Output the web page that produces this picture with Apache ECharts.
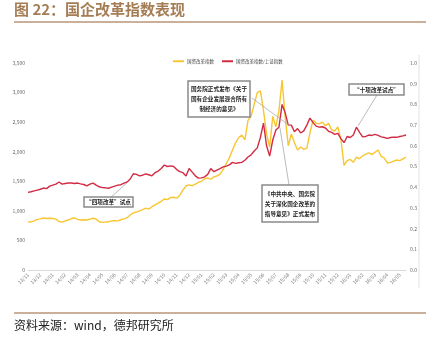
<!DOCTYPE html>
<html><head><meta charset="utf-8">
<script src="https://cdn.jsdelivr.net/npm/echarts@6/dist/echarts.min.js"></script>
<style>html,body{margin:0;padding:0;background:#fff}#c{width:434px;height:341px}</style>
</head><body><div id="c"></div>
<script>
// month tick labels (one category group of 4 points per month)
const months = ['13/11','13/12','14/01','14/02','14/03','14/04','14/05','14/06','14/07','14/08','14/09','14/10','14/11','14/12','15/01','15/02','15/03','15/04','15/05','15/06','15/07','15/08','15/09','15/10','15/11','15/12','16/01','16/02','16/03','16/04','16/05'];
// 国资改革指数 (left axis)
const soeIndex = [810,815,830,855,865,880,870,875,870,860,820,810,830,845,870,880,855,845,850,845,
860,875,860,815,805,810,815,830,835,830,850,865,885,930,965,980,1000,1020,1045,1030,
1070,1100,1130,1160,1200,1190,1225,1230,1215,1265,1350,1420,1440,1425,1450,1480,1500,1540,1555,1535,
1575,1590,1620,1700,1800,1900,2030,2150,2240,2280,2200,2530,2600,2800,3000,3030,2700,2300,2080,2600,
2420,2700,3210,2590,2100,2300,2150,2030,2080,2040,2060,2320,2535,2480,2470,2500,2440,2480,2370,2350,
2420,2200,1770,1850,1870,1820,1910,1880,1930,1960,1980,1950,1990,2030,1920,1890,1810,1820,1840,1860,
1850,1880,1910];
// 国资改革指数/上证指数 (right axis)
const ratio = [0.375,0.378,0.382,0.386,0.39,0.396,0.393,0.405,0.41,0.415,0.425,0.415,0.418,0.42,0.42,0.418,0.42,0.416,0.413,0.406,
0.415,0.42,0.41,0.402,0.398,0.397,0.395,0.4,0.405,0.41,0.412,0.42,0.425,0.44,0.465,0.462,0.455,0.458,0.464,0.46,
0.455,0.47,0.478,0.49,0.507,0.5,0.503,0.5,0.485,0.475,0.47,0.454,0.49,0.473,0.455,0.444,0.445,0.45,0.462,0.49,
0.475,0.483,0.49,0.498,0.502,0.508,0.52,0.515,0.518,0.52,0.53,0.546,0.556,0.575,0.59,0.64,0.71,0.6,0.55,0.628,
0.676,0.69,0.8,0.76,0.7,0.7,0.668,0.683,0.662,0.672,0.7,0.734,0.712,0.695,0.69,0.692,0.686,0.67,0.665,0.655,
0.66,0.635,0.615,0.645,0.64,0.652,0.69,0.665,0.643,0.645,0.652,0.65,0.655,0.65,0.643,0.64,0.636,0.64,0.642,0.641,
0.645,0.648,0.652];
const leftTicks = {min:0, max:3500, interval:500};
const rightTicks = {min:0, max:1, interval:0.1};

const categories = [];
months.forEach(m => { for (let w = 0; w < 4; w++) categories.push(w === 0 ? m : m + '#' + w); });
categories.length = soeIndex.length;

const chart = echarts.init(document.getElementById('c'));
const cjk = '"Noto Sans CJK SC", sans-serif';
const brown = '#a57d55';
const boxStyle = {fill:'#fff', stroke:'#8a8a8a', lineWidth:1.5};
function box(x, y, w, h, text, fs, lh){
  return {type:'group', children:[
    {type:'rect', shape:{x:x, y:y, width:w, height:h}, style:boxStyle, z:10},
    {type:'text', x:x + w/2, y:y + h/2, z:11, style:{text:text, fill:'#222', font:'bold ' + fs + 'px ' + cjk, align:'center', verticalAlign:'middle', lineHeight:lh}}
  ]};
}
chart.setOption({
  animation:false,
  textStyle:{fontFamily:cjk},
  grid:{left:28, right:28, top:63, bottom:71},
  legend:{left:168, top:54, itemWidth:11, itemHeight:2, itemGap:8, icon:'rect',
    textStyle:{fontSize:4.5, color:'#444', padding:[0,0,0,-2]},
    data:['国资改革指数','国资改革指数/上证指数']},
  xAxis:{type:'category', data:categories, boundaryGap:false,
    axisLine:{lineStyle:{color:'#d9d9d9'}}, axisTick:{show:false},
    axisLabel:{interval:3, rotate:45, fontSize:5, color:'#777', margin:4,
      formatter:v => v.split('#')[0]}},
  yAxis:[
    {type:'value', min:leftTicks.min, max:leftTicks.max, interval:leftTicks.interval,
      splitLine:{show:false}, axisLine:{show:false}, axisTick:{show:false},
      axisLabel:{fontSize:5, color:'#666', margin:3, formatter:v => v.toLocaleString('en-US')}},
    {type:'value', min:rightTicks.min, max:rightTicks.max, interval:rightTicks.interval,
      splitLine:{show:false}, axisLine:{show:false}, axisTick:{show:false},
      axisLabel:{fontSize:5, color:'#666', margin:4, formatter:v => v.toFixed(1)}}
  ],
  series:[
    {name:'国资改革指数', type:'line', data:soeIndex, yAxisIndex:0, showSymbol:false,
      lineStyle:{color:'#f7c631', width:1.4}, itemStyle:{color:'#f7c631'}, z:2},
    {name:'国资改革指数/上证指数', type:'line', data:ratio, yAxisIndex:1, showSymbol:false,
      lineStyle:{color:'#d22b44', width:1.4}, itemStyle:{color:'#d22b44'}, z:3}
  ],
  graphic:[
    {type:'text', left:14, top:2, style:{text:'图 22：国企改革指数表现', fill:brown, font:'bold 15px ' + cjk}},
    {type:'line', shape:{x1:14, y1:22, x2:426, y2:22}, style:{stroke:'#b8967a', lineWidth:1.5}},
    {type:'line', shape:{x1:419, y1:55, x2:419, y2:288}, style:{stroke:'#e2e2e2', lineWidth:1}},
    {type:'line', shape:{x1:14, y1:313, x2:426, y2:313}, style:{stroke:'#b8967a', lineWidth:1.5}},
    {type:'text', left:14, top:319, style:{text:'资料来源：wind，德邦研究所', fill:'#222', font:'12px ' + cjk}},
    {type:'line', shape:{x1:252, y1:98, x2:290, y2:126}, style:{stroke:'#aaa', lineWidth:0.8}, z:9},
    {type:'line', shape:{x1:289, y1:185, x2:280, y2:128}, style:{stroke:'#aaa', lineWidth:0.8}, z:9},
    {type:'line', shape:{x1:377, y1:95, x2:358, y2:126}, style:{stroke:'#aaa', lineWidth:0.8}, z:9},
    {type:'line', shape:{x1:110, y1:198, x2:128, y2:182}, style:{stroke:'#aaa', lineWidth:0.8}, z:9},
    box(188, 81, 62, 36, '国务院正式发布《关于\n国有企业发展混合所有\n制经济的意见》', 5.6, 10),
    box(262, 185, 56, 37, '《中共中央、国务院\n关于深化国企改革的\n指导意见》正式发布', 5.6, 10),
    box(349, 84, 55, 11, '“十项改革试点”', 5.6, 10),
    box(84, 197, 49, 10, '“四项改革”试点', 5.6, 10)
  ]
});
</script></body></html>
